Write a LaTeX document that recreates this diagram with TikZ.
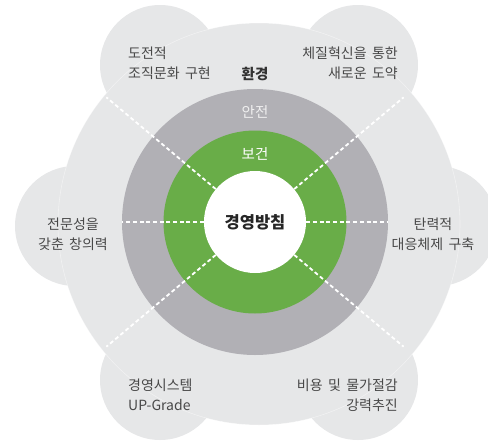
\documentclass[tikz,border=0pt]{standalone}
\usepackage{fontspec}
\newfontfamily\kr[WordSpace=1.7]{Noto Sans CJK KR}
\usetikzlibrary{calc}
\definecolor{lightg}{RGB}{230,231,232}
\definecolor{ringg}{RGB}{177,176,181}
\definecolor{leaf}{RGB}{105,173,72}
\definecolor{txt}{RGB}{72,72,72}
\begin{document}
\begin{tikzpicture}[x=1pt,y=-1pt,
  blob/.style={circle, fill=lightg, inner sep=0pt, minimum size=#1},
  disc/.style={circle, inner sep=0pt, minimum size=#1},
  lbl/.style={font=\kr\fontsize{14}{20}\selectfont, text=txt, inner sep=0pt},
  sepline/.style={draw=white, line width=1.8pt, dash pattern=on 4pt off 2.7pt},
  seam/.style={draw=white, draw opacity=.45, line width=.6pt}]
\useasboundingbox (0,0) rectangle (488,440);
% light gray flower shape
\node[blob=402pt] (body) at (259,224) {};
\node[blob=120pt] (b1) at (160,65) {};
\node[blob=120pt] (b2) at (358,65) {};
\node[blob=120pt] (b3) at (75,226) {};
\node[blob=120pt] (b4) at (437,226) {};
\node[blob=120pt] (b5) at (160,380) {};
\node[blob=120pt] (b6) at (358,380) {};
\draw[seam] (body.center) circle[radius=201pt];
% rings
\node[disc=266pt, fill=ringg] (ring) at (255,222) {};
\node[disc=183pt, fill=leaf] (green) at (255,222) {};
\node[disc=102pt, fill=white, font=\kr\bfseries\fontsize{16.5}{18}\selectfont, text=black!85] (core) at (255,222) {경영방침};
% dashed separators
\coordinate (c) at (255,222);
\coordinate (oR) at ($(c)+(0:133)$);
\coordinate (oL) at ($(c)+(180:133)$);
\coordinate (o1) at ($(c)+(40:194)$);
\coordinate (o2) at ($(c)+(140:194)$);
\coordinate (o3) at ($(c)+(220:194)$);
\coordinate (o4) at ($(c)+(320:194)$);
\foreach \o in {oR,oL,o1,o2,o3,o4} \draw[sepline] (core) -- (\o);
% ring labels
\node[lbl, font=\kr\bfseries\fontsize{14.5}{16}\selectfont, text=black!80] (env) at (255,74) {환경};
\node[lbl, font=\kr\fontsize{14.5}{16}\selectfont, text=white!94!black] (safe) at (255,112) {안전};
\node[lbl, font=\kr\fontsize{14.5}{16}\selectfont, text=white] (health) at (255,154) {보건};
% outer labels
\node[lbl, anchor=west, align=left] (t1) at (128,63) {도전적\\조직문화 구현};
\node[lbl, anchor=east, align=right] (t2) at (398,63) {체질혁신을 통한\\새로운 도약};
\node[lbl, align=center] (t3) at (73,234) {전문성을\\갖춘 창의력};
\node[lbl, align=center] (t4) at (433,234) {탄력적\\대응체제 구축};
\node[lbl, anchor=west, align=left] (t5) at (128,395) {경영시스템\\UP-Grade};
\node[lbl, anchor=east, align=right] (t6) at (398,395) {비용 및 물가절감\\강력추진};
\end{tikzpicture}
\end{document}
